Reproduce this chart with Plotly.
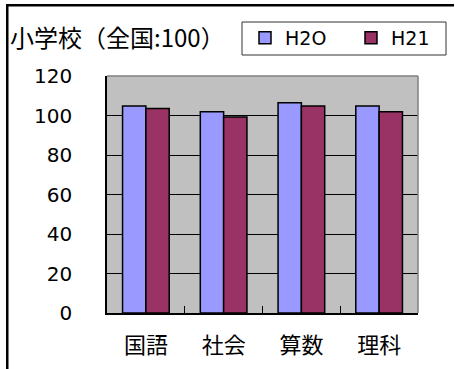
import plotly.graph_objects as go

# School subject scores relative to the national average (= 100)
subjects = ["国語", "社会", "算数", "理科"]
h20 = [104.8, 101.9, 106.4, 104.8]
h21 = [103.6, 99.2, 104.8, 101.9]
series_names = ["H2O", "H21"]
y_ticks = [0, 20, 40, 60, 80, 100, 120]

W, H = 455, 369
ML, MR, MT, MB = 107, 37, 76, 56
PW, PH = W - ML - MR, H - MT - MB


def px_x(p):
    return (p - ML) / PW


def px_y(p):
    return (H - MB - p) / PH


digit_font = "DejaVu Sans, Noto Sans CJK JP"
cjk_font = "Noto Sans CJK JP, DejaVu Sans"

fig = go.Figure()
fig.add_trace(go.Bar(x=subjects, y=h20, name=series_names[0],
                     marker=dict(color="#9999FF", line=dict(color="black", width=1.5))))
fig.add_trace(go.Bar(x=subjects, y=h21, name=series_names[1],
                     marker=dict(color="#993366", line=dict(color="black", width=1.5))))

fig.update_layout(
    width=W, height=H,
    margin=dict(l=ML, r=MR, t=MT, b=MB, autoexpand=False),
    paper_bgcolor="white",
    plot_bgcolor="#C0C0C0",
    barmode="group",
    bargap=0.4,
    bargroupgap=0,
    title=dict(text="小学校（全国:100）", x=10 / W, xanchor="left",
               y=1 - 39 / H, yanchor="middle",
               font=dict(family=cjk_font, size=24, color="black")),
    legend=dict(orientation="h", x=px_x(245), y=px_y(19),
                xanchor="left", yanchor="top",
                borderwidth=0, bgcolor="rgba(0,0,0,0)",
                font=dict(family=digit_font, size=19, color="black"),
                entrywidth=61, entrywidthmode="pixels"),
    showlegend=True,
)

fig.update_xaxes(
    automargin=False,
    showline=True, linecolor="black", linewidth=1.5,
    ticks="inside", tickson="boundaries", ticklen=7, tickcolor="black",
    ticklabelstandoff=12,
    tickfont=dict(family=cjk_font, size=22, color="black"),
    showgrid=False,
)
fig.update_yaxes(
    automargin=False,
    range=[0, 120], tickvals=y_ticks,
    showline=True, linecolor="black", linewidth=1.5,
    showgrid=True, gridcolor="black", gridwidth=1,
    ticks="", ticklabelstandoff=29,
    tickfont=dict(family=digit_font, size=20, color="black"),
    zeroline=False,
)

# gray top/right edges of the plot area
fig.add_shape(type="line", xref="paper", yref="paper", x0=0, x1=1, y0=1, y1=1,
              line=dict(color="#808080", width=1.5))
fig.add_shape(type="line", xref="paper", yref="paper", x0=1, x1=1, y0=0, y1=1,
              line=dict(color="#808080", width=1.5))
# legend box
fig.add_shape(type="rect", xref="paper", yref="paper",
              x0=px_x(242), x1=px_x(446), y0=px_y(55), y1=px_y(22),
              line=dict(color="#333333", width=1), fillcolor="white", layer="below")
# outer chart frame: top and left edges as thin filled bars
fig.add_shape(type="rect", xref="paper", yref="paper",
              x0=px_x(6), x1=px_x(454), y0=px_y(6.5), y1=px_y(4),
              line=dict(width=0), fillcolor="black", layer="above")
fig.add_shape(type="rect", xref="paper", yref="paper",
              x0=px_x(6), x1=px_x(8.5), y0=px_y(H), y1=px_y(4),
              line=dict(width=0), fillcolor="black", layer="above")

fig.write_html("out.html")
